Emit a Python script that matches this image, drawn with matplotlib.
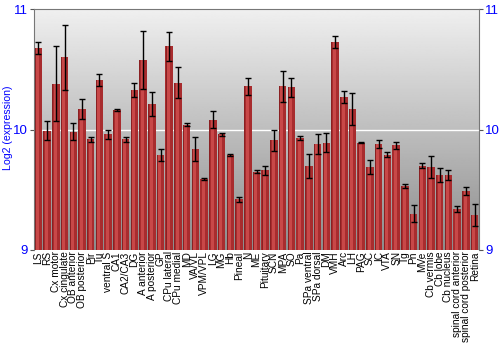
import numpy as np
import matplotlib
matplotlib.use("Agg")
import matplotlib.pyplot as plt

plt.rcParams['font.family'] = ['Liberation Sans', 'DejaVu Sans']

labels = ["LS", "RS", "Cx motor", "Cx cingulate", "OB anterior", "OB posterior", "Pir", "Tu",
          "ventral S", "CA1", "CA2/CA3", "DG", "A anterior", "A posterior", "GP", "CPu lateral",
          "CPu medial", "MD", "VA/VL", "VPM/VPL", "LG", "MG", "Hb", "Pineal", "N", "ME",
          "Pituitary", "SCN", "MPA", "SO", "Pa", "SPa ventral", "SPa dorsal", "DM", "VMH", "Arc",
          "LH", "PAG", "SC", "IC", "VTA", "SN", "Tg", "Pn", "MVe", "Cb vermis", "Cb lobe",
          "Cb nucleus", "spinal cord anterior", "spinal cord posterior", "Retina"]
values = [10.68, 9.99, 10.38, 10.60, 9.98, 10.17, 9.92, 10.41,
          9.96, 10.16, 9.92, 10.33, 10.58, 10.21, 9.79, 10.69,
          10.39, 10.04, 9.84, 9.59, 10.08, 9.96, 9.79, 9.42, 10.36, 9.65,
          9.66, 9.91, 10.36, 10.35, 9.93, 9.70, 9.88, 9.89, 10.73, 10.27,
          10.17, 9.89, 9.69, 9.88, 9.79, 9.87, 9.53, 9.30, 9.70, 9.69, 9.62,
          9.62, 9.34, 9.49, 9.29]
errors = [0.05, 0.08, 0.31, 0.27, 0.07, 0.08, 0.02, 0.05,
          0.04, 0.01, 0.02, 0.06, 0.24, 0.10, 0.05, 0.12,
          0.13, 0.01, 0.10, 0.01, 0.07, 0.01, 0.01, 0.02, 0.07, 0.01,
          0.04, 0.09, 0.13, 0.08, 0.02, 0.10, 0.08, 0.08, 0.05, 0.05,
          0.13, 0.005, 0.06, 0.03, 0.02, 0.03, 0.02, 0.07, 0.02, 0.09, 0.06,
          0.04, 0.025, 0.03, 0.09]

ymin, ymax = 9, 11
x = np.arange(len(labels))
vals = np.array(values)

fig = plt.figure(figsize=(5, 3.5), dpi=100)
ax = fig.add_axes([0.068, 0.286, 0.89, 0.688])

# grey gradient background
grad = np.linspace(0.94, 0.55, 256).reshape(-1, 1)
ax.imshow(grad, cmap='gray', vmin=0, vmax=1, aspect='auto',
          extent=[-0.5, len(labels) - 0.5, ymin, ymax], origin='upper', zorder=0)
ax.axhline(10, color='white', lw=1, zorder=1)

w = 0.86
ax.bar(x, vals - ymin, bottom=ymin, width=w, color='#a82c2e', edgecolor='none', zorder=2)
ax.bar(x - 0.08, vals - ymin, bottom=ymin, width=w * 0.4, color='#c84848', edgecolor='none', zorder=2)
ax.bar(x - 0.36, vals - ymin, bottom=ymin, width=w * 0.12, color='#8a2022', edgecolor='none', zorder=2)
ax.errorbar(x, vals, yerr=errors, fmt='none', ecolor='black', elinewidth=1,
            capsize=2.2, capthick=1, zorder=3)

ax.set_xlim(-0.5, len(labels) - 0.5)
ax.set_ylim(ymin, ymax)
ax.set_xticks(x)
ax.set_xticklabels(labels, rotation=90, fontsize=7.3)
ax.tick_params(axis='x', length=0, pad=1)
ax.set_yticks([9, 10, 11])
ax.tick_params(axis='y', colors='#0000ff', labelsize=9.5, length=3, pad=1.5,
               right=True, labelright=True, left=True, labelleft=True)
ax.tick_params(axis='y', which='both', color='#555555')
fig.text(0.006, 0.634, 'Log2 (expression)', color='#0000ff', fontsize=7.6,
         rotation=90, ha='left', va='center')
for s in ['top', 'left', 'right']:
    ax.spines[s].set_color('#777777')
ax.spines['bottom'].set_visible(False)

fig.savefig('out.png', dpi=100)
